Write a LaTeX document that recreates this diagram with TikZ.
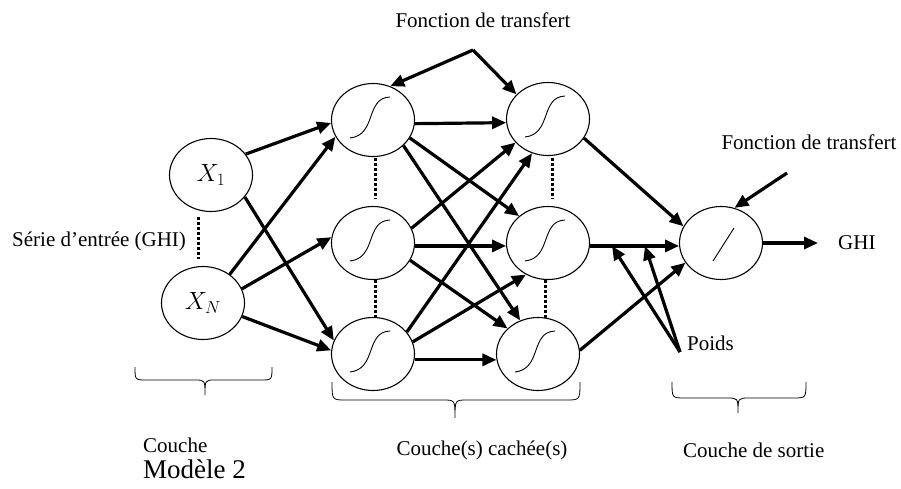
\documentclass[tikz,border=0pt]{standalone}
\usepackage{fontspec}
\setmainfont{Liberation Serif}
\usetikzlibrary{shapes.geometric,arrows.meta}
\begin{document}
\begin{tikzpicture}[x=1pt,y=-1pt,
  neuron/.style={ellipse,draw,line width=1.1pt,minimum width=83pt,minimum height=73pt,inner sep=0pt},
  link/.style={line width=3.2pt,-{Triangle[length=14pt,width=12pt]}},
  dots/.style={line width=3pt,dash pattern=on 3pt off 2pt},
  brace/.style={line width=0.8pt},
  lbl/.style={font=\fontsize{21}{24}\selectfont,inner sep=0pt},
  sig/.style={line width=0.9pt}]
\useasboundingbox (0,0) rectangle (901,488);

% input layer
\node[neuron] (x1) at (211,175) {\fontsize{25}{28}\selectfont$X_1$};
\node[neuron] (xn) at (203,303) {\fontsize{25}{28}\selectfont$X_N$};

% hidden layers
\node[neuron] (h11) at (373,120) {};
\node[neuron] (h12) at (373,243) {};
\node[neuron] (h13) at (373,354) {};
\node[neuron] (h21) at (548,119) {};
\node[neuron] (h22) at (548,243) {};
\node[neuron] (h23) at (538,354) {};

% output neuron
\node[neuron] (out) at (721,243) {};

% sigmoid glyphs
\foreach \n in {h11,h12,h13,h21,h22,h23}{
  \draw[sig] ([shift={(-23,18)}]\n.center) .. controls ([shift={(4,15)}]\n.center) and ([shift={(-8,-22)}]\n.center) .. ([shift={(17,-23)}]\n.center);
}
% linear glyph
\draw[sig] ([shift={(-8,18)}]out.center) -- ([shift={(13,-15)}]out.center);

% dotted separators
\draw[dots] (198,217) -- (198,259);
\draw[dots] (375,158) -- (375,199);
\draw[dots] (375,280) -- (375,317);
\draw[dots] (552,158) -- (552,199);
\draw[dots] (545,280) -- (545,318);

% input -> hidden
\draw[link] (x1.31) -- (h11.184);
\draw[link] (x1.-33) -- (h13.161);
\draw[link] (xn.47) -- (h11.204);
\draw[link] (xn.20) -- (h12.172);
\draw[link] (xn.-19) -- (h13.175);

% hidden -> hidden
\draw[link] (h11.-5) -- (h21.185);
\draw[link] (h11.-26) -- (h22.137);
\draw[link] (h11.-40) -- (h23.118);
\draw[link] (h12.21) -- (h21.216);
\draw[link] (h12.-4) -- (h22.184);
\draw[link] (h12.-25) -- (h23.140);
\draw[link] (h13.33) -- (h21.245);
\draw[link] (h13.17) -- (h22.235);
\draw[link] (h13.-8) -- (h23.188);

% hidden -> output
\draw[link] (h21.-28) -- (out.156);
\draw[link] (h22.-4) -- (out.184);
\draw[link] (h23.5) -- (out.209);

% output
\coordinate (ghiend) at (818,243);
\draw[link] (out.east) -- (ghiend);
\node[lbl,anchor=west] (ghi) at (838,243) {GHI};

% transfer function pointers
\node[lbl] (tf1) at (483,20) {Fonction de transfert};
\coordinate (apex) at (473,50);
\draw[link] (apex) -- (h11.63);
\draw[link] (apex) -- (h21.142);
\node[lbl] (tf2) at (809,142) {Fonction de transfert};
\coordinate (tf2tail) at (787,173);
\draw[link] (tf2tail) -- (out.69);

% weights
\node[lbl,anchor=west] (poids) at (687,343) {Poids};
\coordinate (ptail) at (680,352);
\coordinate (w1) at (612,246);
\coordinate (w2) at (645,246);
\draw[link] (ptail) -- (w1);
\draw[link] (ptail) -- (w2);

% input series label
\node[lbl,anchor=west] (serie) at (12,241) {Série d’entrée (GHI)};

% braces
\draw[brace] (135,367) .. controls (135,380) .. (147,380) -- (195,380) .. controls (205,380) .. (205,395)
  .. controls (205,380) .. (215,380) -- (260,380) .. controls (272,380) .. (272,367);
\draw[brace] (332,382) .. controls (332,400) .. (346,400) -- (443,400) .. controls (455,400) .. (455,418)
  .. controls (455,400) .. (467,400) -- (566,400) .. controls (580,400) .. (580,382);
\draw[brace] (672,382) .. controls (672,398) .. (685,398) -- (727,398) .. controls (738,398) .. (738,413)
  .. controls (738,398) .. (749,398) -- (793,398) .. controls (806,398) .. (806,382);

% layer names
\node[lbl,anchor=west] (cin) at (143,445) {Couche};
\node[inner sep=0pt,anchor=base west,font=\fontsize{27}{30}\selectfont] (mod) at (143,478) {Modèle 2};
\node[lbl] (chid) at (482,450) {Couche(s) cachée(s)};
\node[lbl,anchor=west] (cout) at (683,450) {Couche de sortie};
\end{tikzpicture}
\end{document}
